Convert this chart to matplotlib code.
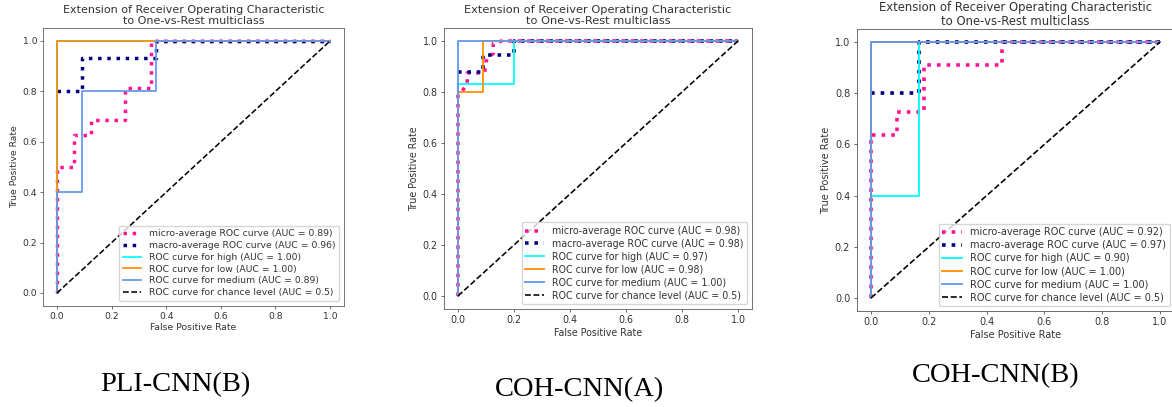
import matplotlib
matplotlib.use("Agg")
import matplotlib.pyplot as plt

# ---------------- data ----------------
panel_names = ["PLI-CNN(B)", "COH-CNN(A)", "COH-CNN(B)"]
class_names = ["high", "low", "medium"]
tick_values = [0.0, 0.2, 0.4, 0.6, 0.8, 1.0]

# Panel 1: PLI-CNN(B)
p1_micro_fpr = [0, 0, 0.0625, 0.0625, 0.125, 0.125, 0.25, 0.25, 0.344, 0.344, 1]
p1_micro_tpr = [0, 0.5, 0.5, 0.625, 0.625, 0.6875, 0.6875, 0.8125, 0.8125, 1, 1]
p1_macro_fpr = [0, 0.091, 0.091, 0.364, 0.364, 1]
p1_macro_tpr = [0.8, 0.8, 0.933, 0.933, 1, 1]
p1_high_fpr = [0, 0, 1]
p1_high_tpr = [0, 1, 1]
p1_low_fpr = [0, 0, 1]
p1_low_tpr = [0, 1, 1]
p1_medium_fpr = [0, 0, 0.091, 0.091, 0.364, 0.364, 1]
p1_medium_tpr = [0, 0.4, 0.4, 0.8, 0.8, 1, 1]
p1_auc = [0.89, 0.96, 1.00, 1.00, 0.89]

# Panel 2: COH-CNN(A)
p2_micro_fpr = [0, 0, 0.019, 0.033, 0.033, 0.095, 0.1, 0.11, 0.126, 0.126, 0.156, 1]
p2_micro_tpr = [0, 0.79, 0.81, 0.833, 0.875, 0.875, 0.92, 0.94, 0.95, 0.99, 1, 1]
p2_macro_fpr = [0, 0.091, 0.091, 0.2, 0.2, 1]
p2_macro_tpr = [0.878, 0.878, 0.944, 0.944, 1, 1]
p2_high_fpr = [0, 0, 0.2, 0.2, 1]
p2_high_tpr = [0, 0.833, 0.833, 1, 1]
p2_low_fpr = [0, 0, 0.091, 0.091, 1]
p2_low_tpr = [0, 0.8, 0.8, 1, 1]
p2_medium_fpr = [0, 0, 1]
p2_medium_tpr = [0, 1, 1]
p2_auc = [0.98, 0.98, 0.97, 0.98, 1.00]

# Panel 3: COH-CNN(B)
p3_micro_fpr = [0, 0, 0.091, 0.091, 0.182, 0.182, 0.455, 0.455, 1]
p3_micro_tpr = [0, 0.636, 0.636, 0.727, 0.727, 0.909, 0.909, 1, 1]
p3_macro_fpr = [0, 0.167, 0.167, 1]
p3_macro_tpr = [0.8, 0.8, 1, 1]
p3_high_fpr = [0, 0, 0.167, 0.167, 1]
p3_high_tpr = [0, 0.4, 0.4, 1, 1]
p3_low_fpr = [0, 0, 1]
p3_low_tpr = [0, 1, 1]
p3_medium_fpr = [0, 0, 1]
p3_medium_tpr = [0, 1, 1]
p3_auc = [0.92, 0.97, 0.90, 1.00, 1.00]

panels = [
    dict(micro=(p1_micro_fpr, p1_micro_tpr), macro=(p1_macro_fpr, p1_macro_tpr),
         classes=[(p1_high_fpr, p1_high_tpr), (p1_low_fpr, p1_low_tpr), (p1_medium_fpr, p1_medium_tpr)],
         auc=p1_auc),
    dict(micro=(p2_micro_fpr, p2_micro_tpr), macro=(p2_macro_fpr, p2_macro_tpr),
         classes=[(p2_high_fpr, p2_high_tpr), (p2_low_fpr, p2_low_tpr), (p2_medium_fpr, p2_medium_tpr)],
         auc=p2_auc),
    dict(micro=(p3_micro_fpr, p3_micro_tpr), macro=(p3_macro_fpr, p3_macro_tpr),
         classes=[(p3_high_fpr, p3_high_tpr), (p3_low_fpr, p3_low_tpr), (p3_medium_fpr, p3_medium_tpr)],
         auc=p3_auc),
]

# ---------------- layout (pixels) ----------------
W, H = 1172, 407
# (left, top, right, bottom) of axes frame in pixels, scale factor
boxes = [
    (43.35, 28.4, 343.65, 305.6, 0.625),
    (444.0, 28.25, 752.0, 308.75, 0.64),
    (856.55, 29.2, 1174.45, 310.8, 0.655),
]
caption_pos = [(175, 372), (580, 377), (996, 363)]

class_colors = ["aqua", "darkorange", "cornflowerblue"]
text_color = "#333333"
spine_color = "#555555"
wide = 1.07  # reference text is slightly stretched horizontally

fig = plt.figure(figsize=(W / 100, H / 100), dpi=100)

for (l, t, r, b, s), p in zip(boxes, panels):
    ax = fig.add_axes([l / W, 1 - b / H, (r - l) / W, (b - t) / H])
    fs = 10 * s * wide
    ax.plot(*p["micro"], color="deeppink", linestyle=":", linewidth=4 * s,
            label=f"micro-average ROC curve (AUC = {p['auc'][0]:.2f})")
    ax.plot(*p["macro"], color="navy", linestyle=":", linewidth=4 * s,
            label=f"macro-average ROC curve (AUC = {p['auc'][1]:.2f})")
    for (fx, ty), name, col, a in zip(p["classes"], class_names, class_colors, p["auc"][2:]):
        ax.plot(fx, ty, color=col, linewidth=2.0 * s,
                label=f"ROC curve for {name} (AUC = {a:.2f})")
    ax.plot([0, 1], [0, 1], "k--", linewidth=1.8 * s,
            label="ROC curve for chance level (AUC = 0.5)")
    ax.set_xlim(-0.05, 1.05)
    ax.set_ylim(-0.05, 1.05)
    ax.set_xticks(tick_values)
    ax.set_yticks(tick_values)
    ax.set_xticklabels([f"{v:.1f}" for v in tick_values])
    ax.set_yticklabels([f"{v:.1f}" for v in tick_values])
    ax.tick_params(labelsize=fs, length=3.5 * s, width=0.8 * s, pad=3.5 * s,
                   colors=text_color)
    for sp in ax.spines.values():
        sp.set_color(spine_color)
        sp.set_linewidth(0.9 * s)
    ax.set_xlabel("False Positive Rate", fontsize=fs, color=text_color, labelpad=3 * s)
    ax.set_ylabel("True Positive Rate", fontsize=fs, color=text_color, labelpad=4 * s)
    ax.set_title("Extension of Receiver Operating Characteristic\nto One-vs-Rest multiclass",
                 fontsize=12 * s * wide, color=text_color, pad=5 * s,
                 linespacing=1.1)
    leg = ax.legend(loc="lower right", fontsize=fs, borderaxespad=0.5,
                    handlelength=2.0, labelspacing=0.3)
    for txt in leg.get_texts():
        txt.set_color(text_color)

for name, (cx, cy) in zip(panel_names, caption_pos):
    fig.text(cx / W, 1 - cy / H, name, ha="center", va="top",
             fontsize=20.5, family="Liberation Serif", color="black")

fig.savefig("out.png", dpi=100)
